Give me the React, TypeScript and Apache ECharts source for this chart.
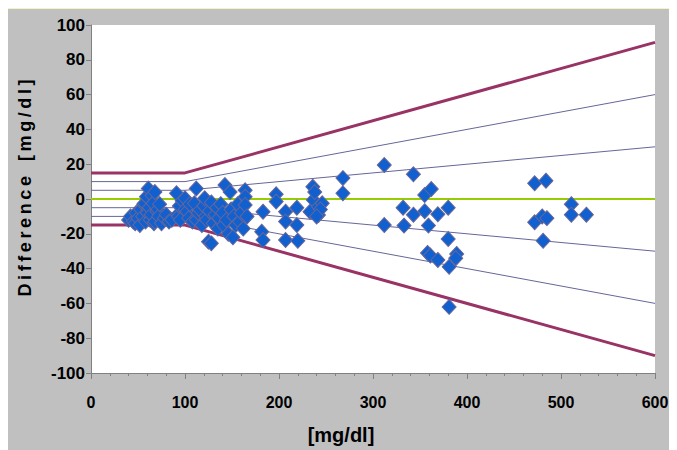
import React, { useEffect, useRef } from "react";
import * as echarts from "echarts";

// Reference glucose [mg/dl] (x) and difference [mg/dl] (y) of each measurement
const glucose: number[] = [
  40, 42, 45, 47, 48, 50, 52, 53, 55, 56, 57, 58, 59, 60, 61, 62, 63, 64, 65, 66, 67, 68, 68, 70, 71, 72, 73, 75, 78, 80, 83, 86,
  91, 92, 93, 94, 95, 97, 100, 100, 102, 104, 105, 108, 110, 112, 112, 114, 116, 118, 120, 121, 122, 123, 125, 126, 128, 128, 130, 132,
  134, 135, 136, 138, 140, 141, 142.5, 144, 146, 148, 149, 151, 152, 154, 156, 158, 160, 162, 164, 164, 164, 166,
  181.6, 183, 183, 197, 197, 207, 207, 207, 219, 219, 220, 233, 236, 236.5, 238, 242, 242, 246, 244, 240,
  312, 268, 268, 343, 355, 362, 332, 343, 355, 369, 380, 312, 333, 359, 380, 358, 361, 369, 381, 389, 388, 381,
  472, 484, 511, 511, 527, 472, 480, 485, 481,
];
const difference: number[] = [
  -12, -10, -13, -14, -8, -11, -15, -6, -10, -3, -2.5, -13, 1.3, -8, 6, -5, -12, -9, 2, -2.5, -14, 4, -13, -7, -6, -10, -3, -14, -11, -9, -13, -12,
  3.3, -9, -10, -4, -12, -1, 0.4, -6, -7.3, -11, -3, -13, -2.5, 6, -12, -8, -6.3, -15, -4, 0.4, -10, -12, -24.5, -7, -25.5, -2, -14, -9,
  -5, -17, -11, -3, -8, -15, 8, -12, -20, 4, -6, -22, -10, -15, -3, -13, -8, -17, 5, 1.3, -3.4, -10,
  -18.8, -7.3, -23.6, 2.7, -1.5, -7.3, -13, -23.6, -5, -15, -24, -7.3, 7, -0.6, 4, -4.4, -9.2, -2.5, -6, -10,
  19.5, 12, 3.3, 14.2, 2.3, 5.7, -5, -9, -7, -8.8, -5, -15, -15.3, -15.3, -23, -31, -32.5, -35, -39, -31.6, -34, -62,
  9, 10.5, -3, -9, -9, -13.4, -10, -11, -24,
];

// Acceptance limits: break points on the x axis and limit values there
const limitX: number[] = [0, 100, 600];
const outerUpper: number[] = [15, 15, 90];
const outerLower: number[] = [-15, -15, -90];
const tenUpper: number[] = [10, 10, 60];
const tenLower: number[] = [-10, -10, -60];
const fiveUpper: number[] = [5, 5, 30];
const fiveLower: number[] = [-5, -5, -30];
const zeroLine: number[] = [0, 0, 0];

const xTicks = { min: 0, max: 600, interval: 100 };
const yTicks = { min: -100, max: 100, interval: 20 };

const xTitle = "[mg/dl]";
const yTitleWord = "Difference";
const yTitleUnit = "[mg/dl]";

const FONT = "'Liberation Sans', Arial, sans-serif";
const TS = "\u2009";

function pairs(ys: number[]) {
  return limitX.map((x, i) => [x, ys[i]]);
}

function lineSeries(ys: number[], color: string, width: number) {
  return {
    type: "line",
    data: pairs(ys),
    showSymbol: false,
    symbol: "none",
    silent: true,
    lineStyle: { color, width },
    z: 2,
  };
}

export default function App() {
  const ref = useRef<HTMLDivElement>(null);
  useEffect(() => {
    if (!ref.current) return;
    const chart = echarts.init(ref.current, undefined, { renderer: "svg" });
    const points = glucose.map((g, i) => [g, difference[i]]);
    const yTitle = yTitleWord.split("").join(TS) + "   " + yTitleUnit.split("").join(TS);
    chart.setOption({
      animation: false,
      backgroundColor: "#c0c0c0",
      grid: {
        left: 84,
        top: 16,
        right: 22,
        bottom: 77,
        show: true,
        backgroundColor: "#ffffff",
        borderWidth: 0,
      },
      graphic: [
        {
          type: "text",
          x: 334,
          y: 426,
          silent: true,
          style: {
            text: xTitle,
            font: "bold 20px " + FONT,
            fill: "#000",
            textAlign: "center",
            textVerticalAlign: "middle",
          },
        },
        {
          type: "text",
          x: 18,
          y: 179,
          rotation: Math.PI / 2,
          silent: true,
          style: {
            text: yTitle,
            font: "bold 18px " + FONT,
            fill: "#000",
            textAlign: "center",
            textVerticalAlign: "middle",
          },
        },
      ],
      xAxis: {
        type: "value",
        min: xTicks.min,
        max: xTicks.max,
        interval: xTicks.interval,
        axisLine: { show: true, onZero: false, lineStyle: { color: "#808080", width: 1 } },
        axisTick: { show: true, length: 6, lineStyle: { color: "#808080" } },
        minorTick: { show: true, splitNumber: 5, length: 3, lineStyle: { color: "#808080" } },
        splitLine: { show: false },
        axisLabel: { fontFamily: FONT, fontWeight: "bold", fontSize: 16, color: "#000", margin: 21 },
      },
      yAxis: {
        type: "value",
        min: yTicks.min,
        max: yTicks.max,
        interval: yTicks.interval,
        axisLine: { show: true, onZero: false, lineStyle: { color: "#808080", width: 1 } },
        axisTick: { show: true, length: 5, lineStyle: { color: "#808080" } },
        splitLine: { show: false },
        axisLabel: { fontFamily: FONT, fontWeight: "bold", fontSize: 17, color: "#000", margin: 6 },
      },
      series: [
        lineSeries(zeroLine, "#99cc00", 2),
        lineSeries(fiveUpper, "#666699", 1),
        lineSeries(fiveLower, "#666699", 1),
        lineSeries(tenUpper, "#666699", 1),
        lineSeries(tenLower, "#666699", 1),
        lineSeries(outerUpper, "#993366", 3),
        lineSeries(outerLower, "#993366", 3),
        {
          type: "scatter",
          data: points,
          symbol: "diamond",
          symbolSize: [14, 15],
          itemStyle: { color: "#1060d0", borderColor: "#666699", borderWidth: 1, opacity: 1 },
          z: 5,
        },
      ],
    });
    return () => chart.dispose();
  }, []);
  return (
    <div
      style={{
        marginLeft: -2,
        width: 671,
        borderTop: "1px solid #f4f4c0",
        borderLeft: "1px solid #f4f4c0",
        background: "#c0c0c0",
      }}
    >
      <div ref={ref} style={{ width: 670, height: 441 }} />
    </div>
  );
}
